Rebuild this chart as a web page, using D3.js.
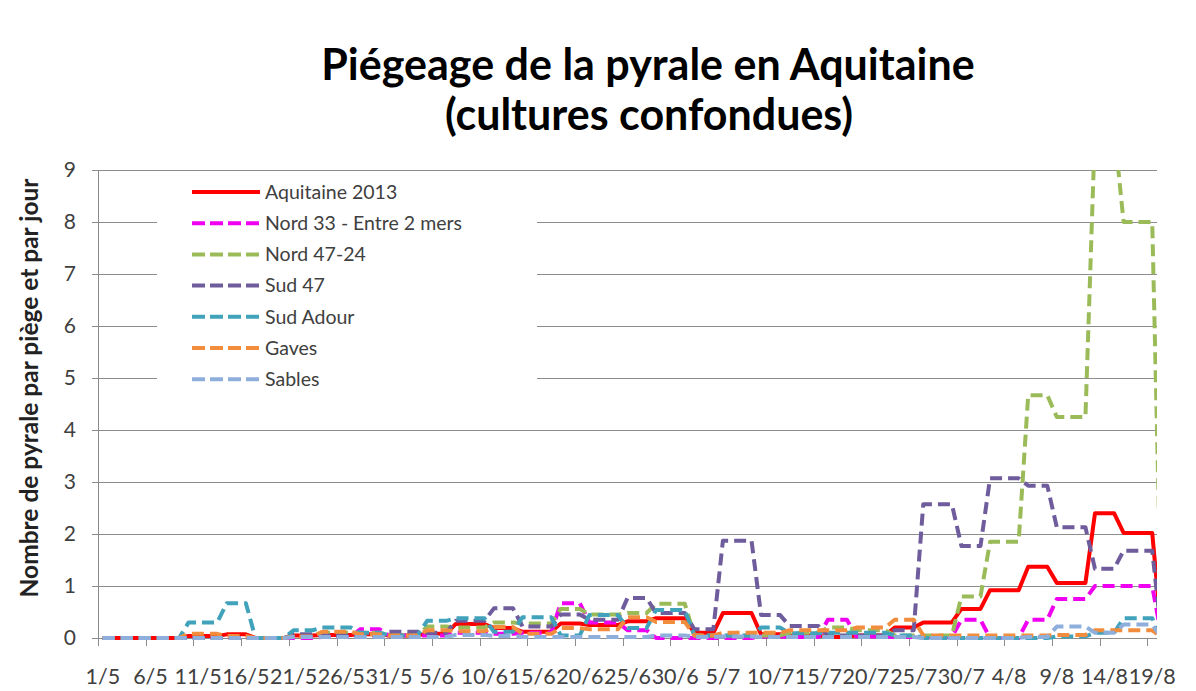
<!DOCTYPE html>
<html>
<head>
<meta charset="utf-8">
<script src="https://cdn.jsdelivr.net/npm/d3@7"></script>
<style>
  body { margin: 0; background: #fff; }
  text { font-family: Lato, "Open Sans", sans-serif; }
</style>
</head>
<body>
<svg id="chart" width="1196" height="691"></svg>
<script>
// trap readings : each value holds from periodFrom to periodTo (2013)
var periodFrom = ["1/5","3/5","7/5","10/5","14/5","17/5","21/5","24/5","28/5","31/5","4/6","7/6","11/6","14/6","18/6","21/6","25/6","28/6",
                  "2/7","5/7","9/7","12/7","16/7","19/7","23/7","26/7","30/7","2/8","6/8","9/8","13/8","16/8","20/8"];
var periodTo   = ["2/5","6/5","9/5","13/5","16/5","20/5","23/5","27/5","30/5","3/6","6/6","10/6","13/6","17/6","20/6","24/6","27/6","1/7",
                  "4/7","8/7","11/7","15/7","18/7","22/7","25/7","29/7","1/8","5/8","8/8","12/8","15/8","19/8","20/8"];

var seriesNames = ["Aquitaine 2013", "Nord 33 - Entre 2 mers", "Nord 47-24", "Sud 47", "Sud Adour", "Gaves", "Sables"];

var aquitaine2013 = [0,0,0,0.04,0.07,0,0.05,0.06,0.07,0.05,0.08,0.27,0.19,0.12,0.28,0.25,0.32,0.38,
                     0.1,0.48,0.07,0.05,0.02,0.05,0.2,0.3,0.56,0.92,1.37,1.06,2.4,2.02,0];
var nord33      = [0,0,0,0,0,0,0,0.02,0.17,0.05,0.05,0.1,0.08,0.1,0.67,0.3,0.15,0,
                     0,0,0.03,0.02,0.35,0.03,0.02,0.02,0.35,0,0.35,0.75,1.0,1.0,0];
var nord4724    = [0,0,0,0,0,0,0.05,0.1,0.1,0.05,0.22,0.2,0.3,0.28,0.56,0.45,0.48,0.66,
                     0.05,0.05,0.05,0.1,0.2,0.15,0.05,0.05,0.8,1.85,4.67,4.25,9.8,8.0,0];
var sud47       = [0,0,0,0,0,0,0.07,0.05,0.05,0.12,0.1,0.33,0.57,0.22,0.45,0.35,0.77,0.48,
                     0.17,1.87,0.44,0.23,0.05,0.05,0.15,2.57,1.77,3.07,2.93,2.13,1.33,1.68,0];
var sudAdour    = [0,0,0,0.3,0.67,0,0.15,0.2,0.1,0.05,0.33,0.38,0.12,0.4,0.05,0.44,0.19,0.54,
                     0.05,0.05,0.2,0.09,0.1,0.1,0.05,0,0,0,0,0.03,0.1,0.38,0];
var gaves       = [0,0,0,0.08,0.04,0,0.03,0.12,0.07,0.05,0.15,0.13,0.21,0.08,0.19,0.17,0.4,0.31,
                     0.05,0.1,0.1,0.15,0.15,0.2,0.35,0.05,0.05,0.05,0.05,0.06,0.15,0.15,0];
var sables      = [0,0,0,0,0,0,0.02,0.02,0.02,0.02,0.02,0.06,0.04,0.02,0.02,0.02,0.02,0.05,
                     0.02,0.03,0.02,0.02,0.02,0.02,0.02,0,0,0,0.02,0.22,0.1,0.26,0];

var xTickLabels = ["1/5","6/5","11/5","16/5","21/5","26/5","31/5","5/6","10/6","15/6","20/6","25/6","30/6",
                   "5/7","10/7","15/7","20/7","25/7","30/7","4/8","9/8","14/8","19/8"];
var yTicks = [0,1,2,3,4,5,6,7,8,9];

var allSeries = [aquitaine2013, nord33, nord4724, sud47, sudAdour, gaves, sables];
var colors = ["#ff0000", "#f000f0", "#9bbb59", "#6e5c9c", "#40a3bb", "#f28d3e", "#8eaedb"];
var dashed = [false, true, true, true, true, true, true];

var day0 = new Date(2013, 4, 1);
function dayIndex(s) {
  var p = s.split("/");
  return d3.timeDay.count(day0, new Date(2013, +p[1] - 1, +p[0]));
}

var svg = d3.select("#chart");
var margin = {top: 170, left: 98},
    width = 1059,
    height = 468;

var x = d3.scaleLinear().domain([-0.5, 110.5]).range([0, width]);
var y = d3.scaleLinear().domain([0, 9]).range([height, 0]);

var g = svg.append("g").attr("transform", "translate(" + margin.left + "," + margin.top + ")");

// title
svg.append("text")
    .attr("x", 648).attr("y", 80)
    .attr("text-anchor", "middle")
    .attr("font-size", 43).attr("font-weight", "bold")
    .text("Piégeage de la pyrale en Aquitaine");
svg.append("text")
    .attr("x", 649).attr("y", 130)
    .attr("text-anchor", "middle")
    .attr("font-size", 43).attr("font-weight", "bold")
    .text("(cultures confondues)");

// gridlines
g.append("g")
  .selectAll("line")
  .data(yTicks.slice(1))
  .enter().append("line")
    .attr("x1", 0).attr("x2", width)
    .attr("y1", function(d) { return y(d) + 0.5; })
    .attr("y2", function(d) { return y(d) + 0.5; })
    .attr("stroke", "#8c8c8c").attr("stroke-width", 1);

// y axis
var yAxis = g.append("g")
    .call(d3.axisLeft(y).tickValues(yTicks).tickSize(6).tickPadding(16).tickFormat(d3.format("d")));
yAxis.select(".domain").attr("stroke", "#8c8c8c");
yAxis.selectAll(".tick line").attr("stroke", "#8c8c8c");
yAxis.selectAll("text").attr("font-size", 21).attr("fill", "#404040")
    .style("font-family", "Lato, sans-serif");

svg.append("text")
    .attr("transform", "translate(38," + 388 + ") rotate(-90)")
    .attr("text-anchor", "middle")
    .attr("font-size", 24.5).attr("font-weight", "bold").attr("fill", "#222")
    .text("Nombre de pyrale par piège et par jour");

// x axis
var xa = g.append("g").attr("transform", "translate(0," + height + ")");
xa.append("line")
    .attr("x1", 0).attr("x2", width).attr("y1", 0.5).attr("y2", 0.5)
    .attr("stroke", "#8c8c8c");
xa.selectAll(".tk")
  .data(xTickLabels)
  .enter().append("line")
    .attr("class", "tk")
    .attr("x1", function(d) { return Math.round(x(dayIndex(d) - 0.5)) + 0.5; })
    .attr("x2", function(d) { return Math.round(x(dayIndex(d) - 0.5)) + 0.5; })
    .attr("y1", 0).attr("y2", 8)
    .attr("stroke", "#8c8c8c");
xa.selectAll(".lbl")
  .data(xTickLabels)
  .enter().append("text")
    .attr("class", "lbl")
    .attr("x", function(d) { return x(dayIndex(d)); })
    .attr("y", 46)
    .attr("text-anchor", "middle")
    .attr("font-size", 21.5).attr("fill", "#404040")
    .text(function(d) { return d; });

// lines
svg.append("clipPath").attr("id", "plotClip")
  .append("rect")
    .attr("x", 0).attr("y", 0).attr("width", width).attr("height", height + 6);

function toPoints(vals) {
  var pts = [];
  vals.forEach(function(v, k) {
    var a = dayIndex(periodFrom[k]), b = dayIndex(periodTo[k]);
    pts.push([a, v]);
    if (b !== a) pts.push([b, v]);
  });
  return pts;
}

var line = d3.line()
    .x(function(d) { return x(d[0]); })
    .y(function(d) { return y(d[1]); });

g.append("g")
    .attr("clip-path", "url(#plotClip)")
  .selectAll("path")
  .data(allSeries)
  .enter().append("path")
    .attr("d", function(d) { return line(toPoints(d)); })
    .attr("fill", "none")
    .attr("stroke", function(d, i) { return colors[i]; })
    .attr("stroke-width", 4)
    .attr("stroke-linejoin", "round")
    .attr("stroke-dasharray", function(d, i) { return dashed[i] ? "12,6" : null; });

// legend
var legend = svg.append("g");
legend.append("rect")
    .attr("x", 157).attr("y", 174).attr("width", 380).attr("height", 221)
    .attr("fill", "#fff");
var item = legend.selectAll(".item")
  .data(seriesNames)
  .enter().append("g")
    .attr("class", "item")
    .attr("transform", function(d, i) { return "translate(0," + (192 + i * 31.2) + ")"; });
item.append("line")
    .attr("x1", 192).attr("x2", 260).attr("y1", 0).attr("y2", 0)
    .attr("stroke", function(d, i) { return colors[i]; })
    .attr("stroke-width", 4)
    .attr("stroke-dasharray", function(d, i) { return dashed[i] ? "13,5" : null; });
item.append("text")
    .attr("x", 265).attr("y", 0).attr("dy", "0.35em")
    .attr("font-size", 19.5).attr("fill", "#404040")
    .text(function(d) { return d; });
</script>
</body>
</html>
